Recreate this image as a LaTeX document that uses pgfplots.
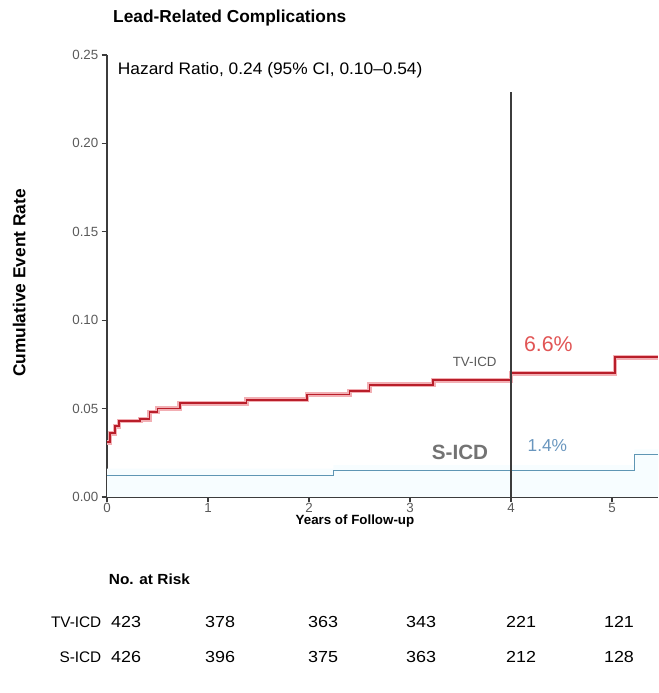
\documentclass[border=0pt]{standalone}
\usepackage{pgfplots}
\pgfplotsset{compat=1.18}
\usepackage{fontspec}
\setmainfont{Liberation Sans}
\definecolor{tvred}{RGB}{185,30,42}
\definecolor{tvpink}{RGB}{242,175,180}
\definecolor{sblue}{RGB}{95,150,180}
\definecolor{pctred}{RGB}{225,85,85}
\definecolor{pctblue}{RGB}{105,150,190}
\definecolor{txtgray}{RGB}{90,90,90}
\definecolor{axgray}{RGB}{60,60,60}
\begin{document}
\begin{tikzpicture}[x=1pt,y=1pt]
\begin{axis}[
  scale only axis,
  width=413.25pt, height=331.5pt,
  xmin=0, xmax=5.4554, ymin=0, ymax=0.25,
  axis x line*=bottom, axis y line*=left,
  axis line style={axgray, line width=1.1pt},
  x axis line style={line width=1.5pt},
  xtick={0,1,2,3,4,5},
  ytick={0,0.05,0.10,0.15,0.20,0.25},
  yticklabel style={/pgf/number format/fixed, /pgf/number format/fixed zerofill, /pgf/number format/precision=2, xshift=1pt},
  /pgf/number format/assume math mode=true,
  ticklabel style={font=\fontsize{10}{11}\selectfont, text=txtgray},
  xticklabel style={yshift=3pt},
  tick style={axgray, line width=0.8pt},
  tick align=outside,
  major tick length=4pt,
  clip=false,
]
% S-ICD faint band
\addplot[draw=none, fill=cyan!3, const plot] coordinates {(0,0.016) (2.24,0.018) (5.22,0.027) (5.4554,0.027)} \closedcycle;
% TV-ICD pink band (drawn as wide light line)
\addplot[tvpink, line width=3.5pt, const plot] coordinates {
(0,0.031) (0.03,0.036) (0.08,0.040) (0.12,0.043) (0.33,0.044) (0.42,0.048) (0.5,0.050) (0.72,0.053) (1.38,0.055) (1.98,0.058) (2.4,0.060) (2.6,0.0635) (3.23,0.066) (4.0,0.070) (5.03,0.079) (5.4554,0.079)};
\addplot[tvred, line width=1.3pt, const plot] coordinates {
(0,0.031) (0.03,0.036) (0.08,0.040) (0.12,0.043) (0.33,0.044) (0.42,0.048) (0.5,0.050) (0.72,0.053) (1.38,0.055) (1.98,0.058) (2.4,0.060) (2.6,0.0635) (3.23,0.066) (4.0,0.070) (5.03,0.079) (5.4554,0.079)};
% S-ICD
\addplot[sblue, line width=1.0pt, const plot] coordinates {
(0,0.0123) (2.24,0.0148) (5.22,0.0240) (5.4554,0.0240)};
% vertical line at 4 years
\addplot[axgray, line width=1.1pt] coordinates {(4,0) (4,0.229)};

\node[anchor=west, font=\bfseries\fontsize{13}{15}\selectfont] at (axis cs:0.015,0.2709) {Lead-Related Complications};
\node[anchor=west, font=\fontsize{12.5}{14}\selectfont, xscale=1.04] at (axis cs:0.06,0.2415) {Hazard Ratio, 0.24 (95\% CI, 0.10--0.54)};
\node[rotate=90, font=\bfseries\fontsize{13}{15}\selectfont] at (axis cs:-0.87,0.121) {Cumulative Event Rate};
\node[font=\bfseries\fontsize{10}{12}\selectfont] at (axis cs:2.455,-0.0138) {Years of Follow-up};

\node[font=\fontsize{10}{12}\selectfont, text=txtgray] at (axis cs:3.64,0.0765) {TV-ICD};
\node[font=\fontsize{16}{18}\selectfont, text=pctred] at (axis cs:4.37,0.0865) {6.6\%};
\node[font=\bfseries\fontsize{15.5}{18}\selectfont, text=txtgray!85] at (axis cs:3.495,0.0255) {S-ICD};
\node[font=\fontsize{13}{15}\selectfont, text=pctblue] at (axis cs:4.36,0.0292) {1.4\%};

\node[anchor=west, font=\bfseries\fontsize{11}{13}\selectfont, xscale=1.05] at (axis cs:-0.03,-0.0465) {No. at Risk};
\node[anchor=east, font=\fontsize{11.5}{13}\selectfont] at (axis cs:-0.01,-0.0707) {TV-ICD};
\node[anchor=east, font=\fontsize{11.5}{13}\selectfont] at (axis cs:-0.01,-0.0905) {S-ICD};
\node[font=\fontsize{12}{14}\selectfont, xscale=1.12] at (axis cs:0.19,-0.0707) {423};
\node[font=\fontsize{12}{14}\selectfont, xscale=1.12] at (axis cs:1.119,-0.0707) {378};
\node[font=\fontsize{12}{14}\selectfont, xscale=1.12] at (axis cs:2.139,-0.0707) {363};
\node[font=\fontsize{12}{14}\selectfont, xscale=1.12] at (axis cs:3.109,-0.0707) {343};
\node[font=\fontsize{12}{14}\selectfont, xscale=1.12] at (axis cs:4.099,-0.0707) {221};
\node[font=\fontsize{12}{14}\selectfont, xscale=1.12] at (axis cs:5.069,-0.0707) {121};
\node[font=\fontsize{12}{14}\selectfont, xscale=1.12] at (axis cs:0.19,-0.0905) {426};
\node[font=\fontsize{12}{14}\selectfont, xscale=1.12] at (axis cs:1.119,-0.0905) {396};
\node[font=\fontsize{12}{14}\selectfont, xscale=1.12] at (axis cs:2.139,-0.0905) {375};
\node[font=\fontsize{12}{14}\selectfont, xscale=1.12] at (axis cs:3.109,-0.0905) {363};
\node[font=\fontsize{12}{14}\selectfont, xscale=1.12] at (axis cs:4.099,-0.0905) {212};
\node[font=\fontsize{12}{14}\selectfont, xscale=1.12] at (axis cs:5.069,-0.0905) {128};
\coordinate (BBsw) at (axis cs:-1.0594,-0.11086);
\coordinate (BBne) at (axis cs:5.4554,0.2811);
\end{axis}
\pgfresetboundingbox
\path[use as bounding box] (BBsw) rectangle (BBne);
\end{tikzpicture}
\end{document}
